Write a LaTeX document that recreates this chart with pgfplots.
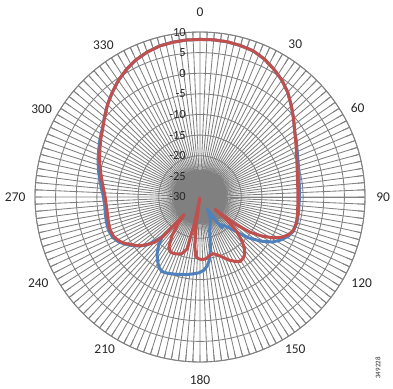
\documentclass[border=0pt]{standalone}
\usepackage{fontspec}
\setmainfont{Carlito}
\usepackage{pgfplots}
\usepackage{pgfplotstable}
\pgfplotsset{compat=1.18}
\usepgfplotslibrary{polar}
\definecolor{exblue}{RGB}{79,129,189}
\definecolor{exred}{RGB}{192,80,77}
\definecolor{gridgray}{RGB}{128,128,128}
\definecolor{labtext}{RGB}{40,40,40}

% compass angle (0 = top, clockwise), gain in dB
\pgfplotstableread{
ang val
0 8.2
5 8.25
10 8.2
15 8.0
20 7.7
25 6.9
30 5.8
35 4.6
40 3.1
45 1.3
50 -0.4
55 -2.0
60 -3.0
65 -4.0
70 -4.7
75 -5.2
80 -5.6
85 -5.8
90 -5.9
95 -5.9
100 -5.8
105 -5.7
110 -5.9
114 -6.6
118 -7.8
122 -9.4
126 -11.8
130 -14.6
133 -17.2
136 -19.5
139 -20.6
142 -21.5
144 -20.8
146 -22.5
149 -26.5
152 -25
156 -23.8
160 -22.8
164 -21.5
167 -19.0
169 -16.8
171.6 -14.5
174 -13.2
177 -12.2
181 -11.6
185 -11.3
190 -10.9
197 -10.4
203 -9.9
207 -9.7
210 -10.2
213 -11.2
217 -12.7
221 -14.8
223.5 -16.8
225.5 -14.9
228 -12.6
231 -11.1
235 -9.6
238 -8.5
241 -7.5
245 -6.7
250 -6.4
255 -6.5
260 -6.7
265 -6.8
270 -6.6
275 -6.0
280 -5.3
285 -4.5
290 -3.7
295 -2.9
300 -2.0
305 -1.1
310 0.2
315 1.7
320 3.1
325 4.5
330 5.7
335 6.7
340 7.4
345 7.9
350 8.1
355 8.2
360 8.2
}\bluedata

\pgfplotstableread{
ang val
0 8.2
5 8.25
10 8.2
15 8.0
20 7.7
25 6.9
30 5.8
35 4.6
40 3.1
45 1.3
50 -0.4
55 -2.0
60 -3.2
65 -4.2
70 -5.0
75 -5.6
80 -6.0
85 -6.2
90 -6.3
95 -6.2
100 -6.0
105 -5.8
110 -6.0
113 -6.7
116 -7.8
119 -9.6
122 -12.0
125 -15.0
127.5 -19.0
129.5 -25.3
131 -21
133 -18
136 -15.5
139 -13.6
142 -12.4
145 -11.8
148 -11.6
151 -12.1
155 -13.1
159 -14.3
163 -15.3
167 -15.9
170 -15.7
174 -15.0
178 -14.8
181 -15.0
184 -15.5
186 -18
188 -23
190 -29.8
192 -23
194 -17
198 -15.5
203 -15.0
208 -14.8
212 -15.8
216 -18.5
219 -21.5
222 -24.3
223 -17
225 -14.5
228 -12.8
231 -11.2
235 -9.8
238 -8.7
241 -7.8
245 -7.0
250 -6.8
255 -7.0
260 -7.2
265 -7.2
270 -7.0
275 -6.5
280 -5.8
285 -5.0
290 -4.1
295 -3.2
300 -2.2
305 -1.2
310 0.2
315 1.7
320 3.1
325 4.5
330 5.7
335 6.7
340 7.4
345 7.9
350 8.1
355 8.2
360 8.2
}\reddata

\begin{document}
\begin{tikzpicture}
\begin{polaraxis}[
  scale only axis, width=330bp, height=330bp,
  xmin=0, xmax=360, ymin=0, ymax=40,
  xtick={0,2.5,...,357.5},
  xticklabels={},
  xticklabel style={text opacity=0},
  ytick={5,10,...,40}, yticklabels={},
  yticklabel style={text opacity=0},
  grid=major,
  major grid style={gridgray, line width=0.85bp},
  axis line style={gridgray, line width=0.9bp},
  tick align=outside,
  major tick length=7bp,
  xtick style={gridgray, line width=0.85bp},
  ytick style={draw=none},
  clip=false,
]
\addplot[exblue, line width=3bp, line join=round, line cap=round]
  table[x expr={90-\thisrow{ang}}, y expr={\thisrow{val}+30}] {\bluedata};
\addplot[exred, line width=3bp, line join=round, line cap=round]
  table[x expr={90-\thisrow{ang}}, y expr={\thisrow{val}+30}] {\reddata};

\coordinate (O) at (axis cs:0,0);

\tikzset{alab/.style={text=labtext, font=\fontsize{13.5}{14}\selectfont, inner sep=0pt}}
\node[alab] at (axis cs:90,44.8) {0};
\node[alab] at (axis cs:58,43.6) {30};
\node[alab] at (axis cs:29.5,43.9) {60};
\node[alab] at (axis cs:0,44.4) {90};
\node[alab] at (axis cs:332,44.4) {120};
\node[alab] at (axis cs:302,43.6) {150};
\node[alab] at (axis cs:270,44.4) {180};
\node[alab] at (axis cs:238,43.6) {210};
\node[alab] at (axis cs:208,44.4) {240};
\node[alab] at (axis cs:180,44.8) {270};
\node[alab] at (axis cs:151,43.9) {300};
\node[alab] at (axis cs:122.5,43.6) {330};

\tikzset{rlab/.style={text=labtext, font=\fontsize{12.5}{13}\selectfont, inner sep=0pt, anchor=east, xshift=-14bp}}
\node[rlab] at (axis cs:90,40) {10};
\node[rlab] at (axis cs:90,35) {5};
\node[rlab] at (axis cs:90,30) {0};
\node[rlab] at (axis cs:90,25) {-5};
\node[rlab] at (axis cs:90,20) {-10};
\node[rlab] at (axis cs:90,15) {-15};
\node[rlab] at (axis cs:90,10) {-20};
\node[rlab] at (axis cs:90,5) {-25};
\node[rlab] at (axis cs:90,0) {-30};
\end{polaraxis}
\node[rotate=90, text=labtext, font=\fontsize{7}{7}\selectfont, inner sep=0pt] at ([shift={(178bp,-171bp)}]O) {349228};
\pgfresetboundingbox
\path[use as bounding box] (O) ++(-200bp,-192bp) rectangle ++(393bp,389bp);
\end{tikzpicture}
\end{document}
